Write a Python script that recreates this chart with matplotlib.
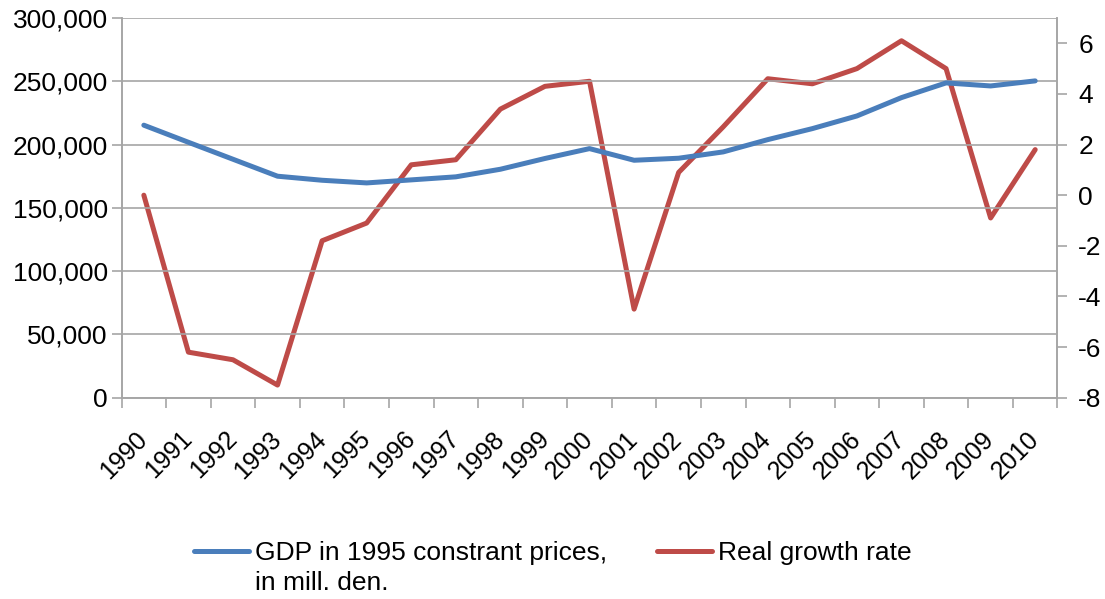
import numpy as np
import matplotlib
matplotlib.use("Agg")
import matplotlib.pyplot as plt

plt.rcParams["font.family"] = ["Liberation Sans", "DejaVu Sans"]
plt.rcParams["axes.unicode_minus"] = False

years = [str(y) for y in range(1990, 2011)]
gdp = [215300, 201800, 188400, 175000, 171800, 169700, 172100, 174500, 180500, 189000,
       196800, 187600, 189200, 194200, 203900, 212600, 222600, 237100, 248700, 246300, 250300]
growth = [0.0, -6.2, -6.5, -7.5, -1.8, -1.1, 1.2, 1.4, 3.4, 4.3,
          4.5, -4.5, 0.9, 2.7, 4.6, 4.4, 5.0, 6.1, 5.0, -0.9, 1.8]

BLUE = "#4A7EBB"
RED = "#BE4B48"
GRID = "#A6A6A6"
FS = 19

fig = plt.figure(figsize=(11.05, 5.99), dpi=100)
ax = fig.add_axes([0.110, 0.336, 0.847, 0.634])
ax2 = ax.twinx()

x = np.arange(len(years))
l1, = ax.plot(x, gdp, color=BLUE, lw=3.6, solid_capstyle="round", solid_joinstyle="round")
l2, = ax2.plot(x, growth, color=RED, lw=3.6, solid_capstyle="round", solid_joinstyle="round")
ax.set_zorder(ax2.get_zorder() + 1)
ax.patch.set_visible(False)

ax.set_xlim(-0.5, len(years) - 0.5)
ax.set_ylim(0, 300000)
ax.set_yticks(np.arange(0, 300001, 50000))
ax.set_yticklabels([f"{v:,}" for v in range(0, 300001, 50000)])
ax2.set_ylim(-8, 7)
ax2.set_yticks(np.arange(-8, 7, 2))

ax.grid(axis="y", color=GRID, lw=1.2)
ax.set_axisbelow(True)

ax.set_xticks(x)
ax.set_xticklabels(years, rotation=45, ha="right", va="center", rotation_mode="anchor")
ax.set_xticks(np.arange(-0.5, len(years)), minor=True)
ax.tick_params(axis="x", which="major", length=0, pad=27, labelsize=18)
ax.tick_params(axis="x", which="minor", length=7, color=GRID, width=1.2)
ax.tick_params(axis="y", length=7, color=GRID, width=1.2, labelsize=FS, pad=3)
ax2.tick_params(axis="y", length=7, color=GRID, width=1.2, labelsize=FS, pad=8)

for a in (ax, ax2):
    a.spines["top"].set_visible(False)
    for s in ("left", "right", "bottom"):
        a.spines[s].set_color(GRID)
        a.spines[s].set_linewidth(1.2)

leg = fig.legend([l1, l2], ["GDP in 1995 constrant prices,", "Real growth rate"],
                 loc="center", bbox_to_anchor=(0.5, 1 - 553 / 599), ncol=2, frameon=False,
                 fontsize=FS, handlelength=2.1, handletextpad=0.2, columnspacing=1.9,
                 borderaxespad=0, borderpad=0)

# second line of the first legend label
fig.canvas.draw()
bb = leg.get_texts()[0].get_window_extent()
fig.text(bb.x0 / fig.bbox.width, (bb.y0 + bb.y1) / 2 / fig.bbox.height - 30 / 599,
         "in mill. den.", fontsize=FS, ha="left", va="center")

fig.savefig("out.png", dpi=100)
